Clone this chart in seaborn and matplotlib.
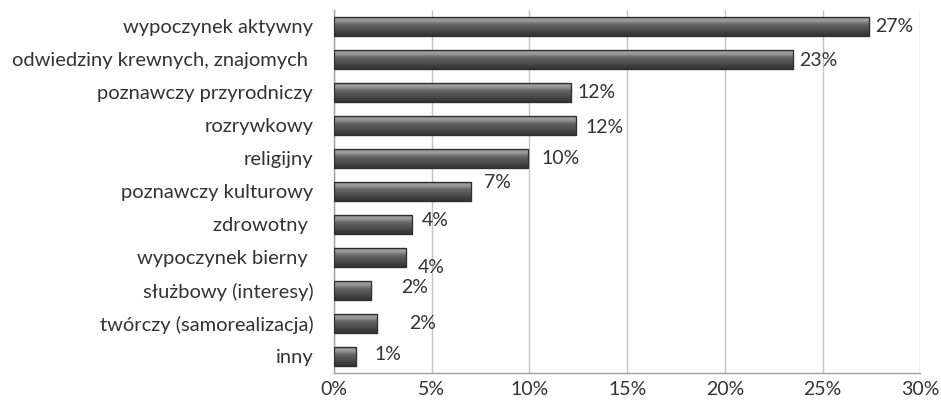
import matplotlib
matplotlib.use("Agg")
import matplotlib.pyplot as plt
import numpy as np
import pandas as pd
import seaborn as sns

categories = [
    "wypoczynek aktywny",
    "odwiedziny krewnych, znajomych ",
    "poznawczy przyrodniczy",
    "rozrywkowy",
    "religijny",
    "poznawczy kulturowy",
    "zdrowotny ",
    "wypoczynek bierny ",
    "służbowy (interesy)",
    "twórczy (samorealizacja)",
    "inny",
]
values = [27.4, 23.5, 12.1, 12.4, 9.9, 7.0, 4.0, 3.7, 1.9, 2.2, 1.1]
labels = ["27%", "23%", "12%", "12%", "10%", "7%", "4%", "4%", "2%", "2%", "1%"]

# nudges for the data labels (x in %, y in rows), as they sit in the original
label_dx = [0.3, 0.3, 0.35, 0.45, 0.7, 0.65, 0.5, 0.6, 1.55, 1.65, 0.95]
label_dy = [0.0, 0.03, 0.0, 0.06, 0.0, -0.28, -0.12, 0.3, -0.1, 0.0, -0.05]

sns.set_theme(style="white")
plt.rcParams["font.family"] = ["Lato", "DejaVu Sans"]

df = pd.DataFrame({"cat": categories, "val": values})

fig = plt.figure(figsize=(9.41, 4.08), dpi=100)
ax = fig.add_axes([0.355, 0.086, 0.623, 0.89])

sns.barplot(data=df, y="cat", x="val", orient="h", color="#555555",
            width=0.58, edgecolor="#2e2e2e", linewidth=0.8, ax=ax, zorder=3)

# vertical gradient inside each bar for the bevel look
grad = np.array([0.4, 0.64, 0.6, 0.47, 0.38, 0.35, 0.32, 0.29, 0.24, 0.21])[:, None]
for p in ax.patches:
    x0, y0 = p.get_x(), p.get_y()
    w, h = p.get_width(), p.get_height()
    im = ax.imshow(grad, cmap="gray", vmin=0, vmax=1, aspect="auto",
                   extent=[x0, x0 + w, y0 + h, y0], zorder=4,
                   interpolation="bicubic")
    im.set_clip_path(p)
    ax.add_patch(plt.Rectangle((x0, y0), w, h, fill=False,
                               edgecolor="#2e2e2e", linewidth=0.9, zorder=5))

for i, (v, lab) in enumerate(zip(values, labels)):
    ax.text(v + label_dx[i], i + label_dy[i], lab, va="center", ha="left",
            fontsize=14, color="#333333", zorder=6)

ax.set_xlim(0, 30)
ax.set_ylim(len(categories) - 0.5, -0.5)
ax.set_xticks(range(0, 31, 5))
ax.set_xticklabels([f"{t}%" for t in range(0, 31, 5)])
ax.xaxis.grid(True, color="#c4c4c4", linewidth=1.0, zorder=0)
ax.set_axisbelow(True)
ax.set_xlabel("")
ax.set_ylabel("")
ax.tick_params(axis="both", labelsize=14, colors="#333333", length=0, pad=6)
ax.tick_params(axis="y", labelsize=14.5, pad=15)
for s in ["top", "right"]:
    ax.spines[s].set_visible(False)
for s in ["left", "bottom"]:
    ax.spines[s].set_color("#a0a0a0")
    ax.spines[s].set_linewidth(1.0)

fig.savefig("out.png", dpi=100)
